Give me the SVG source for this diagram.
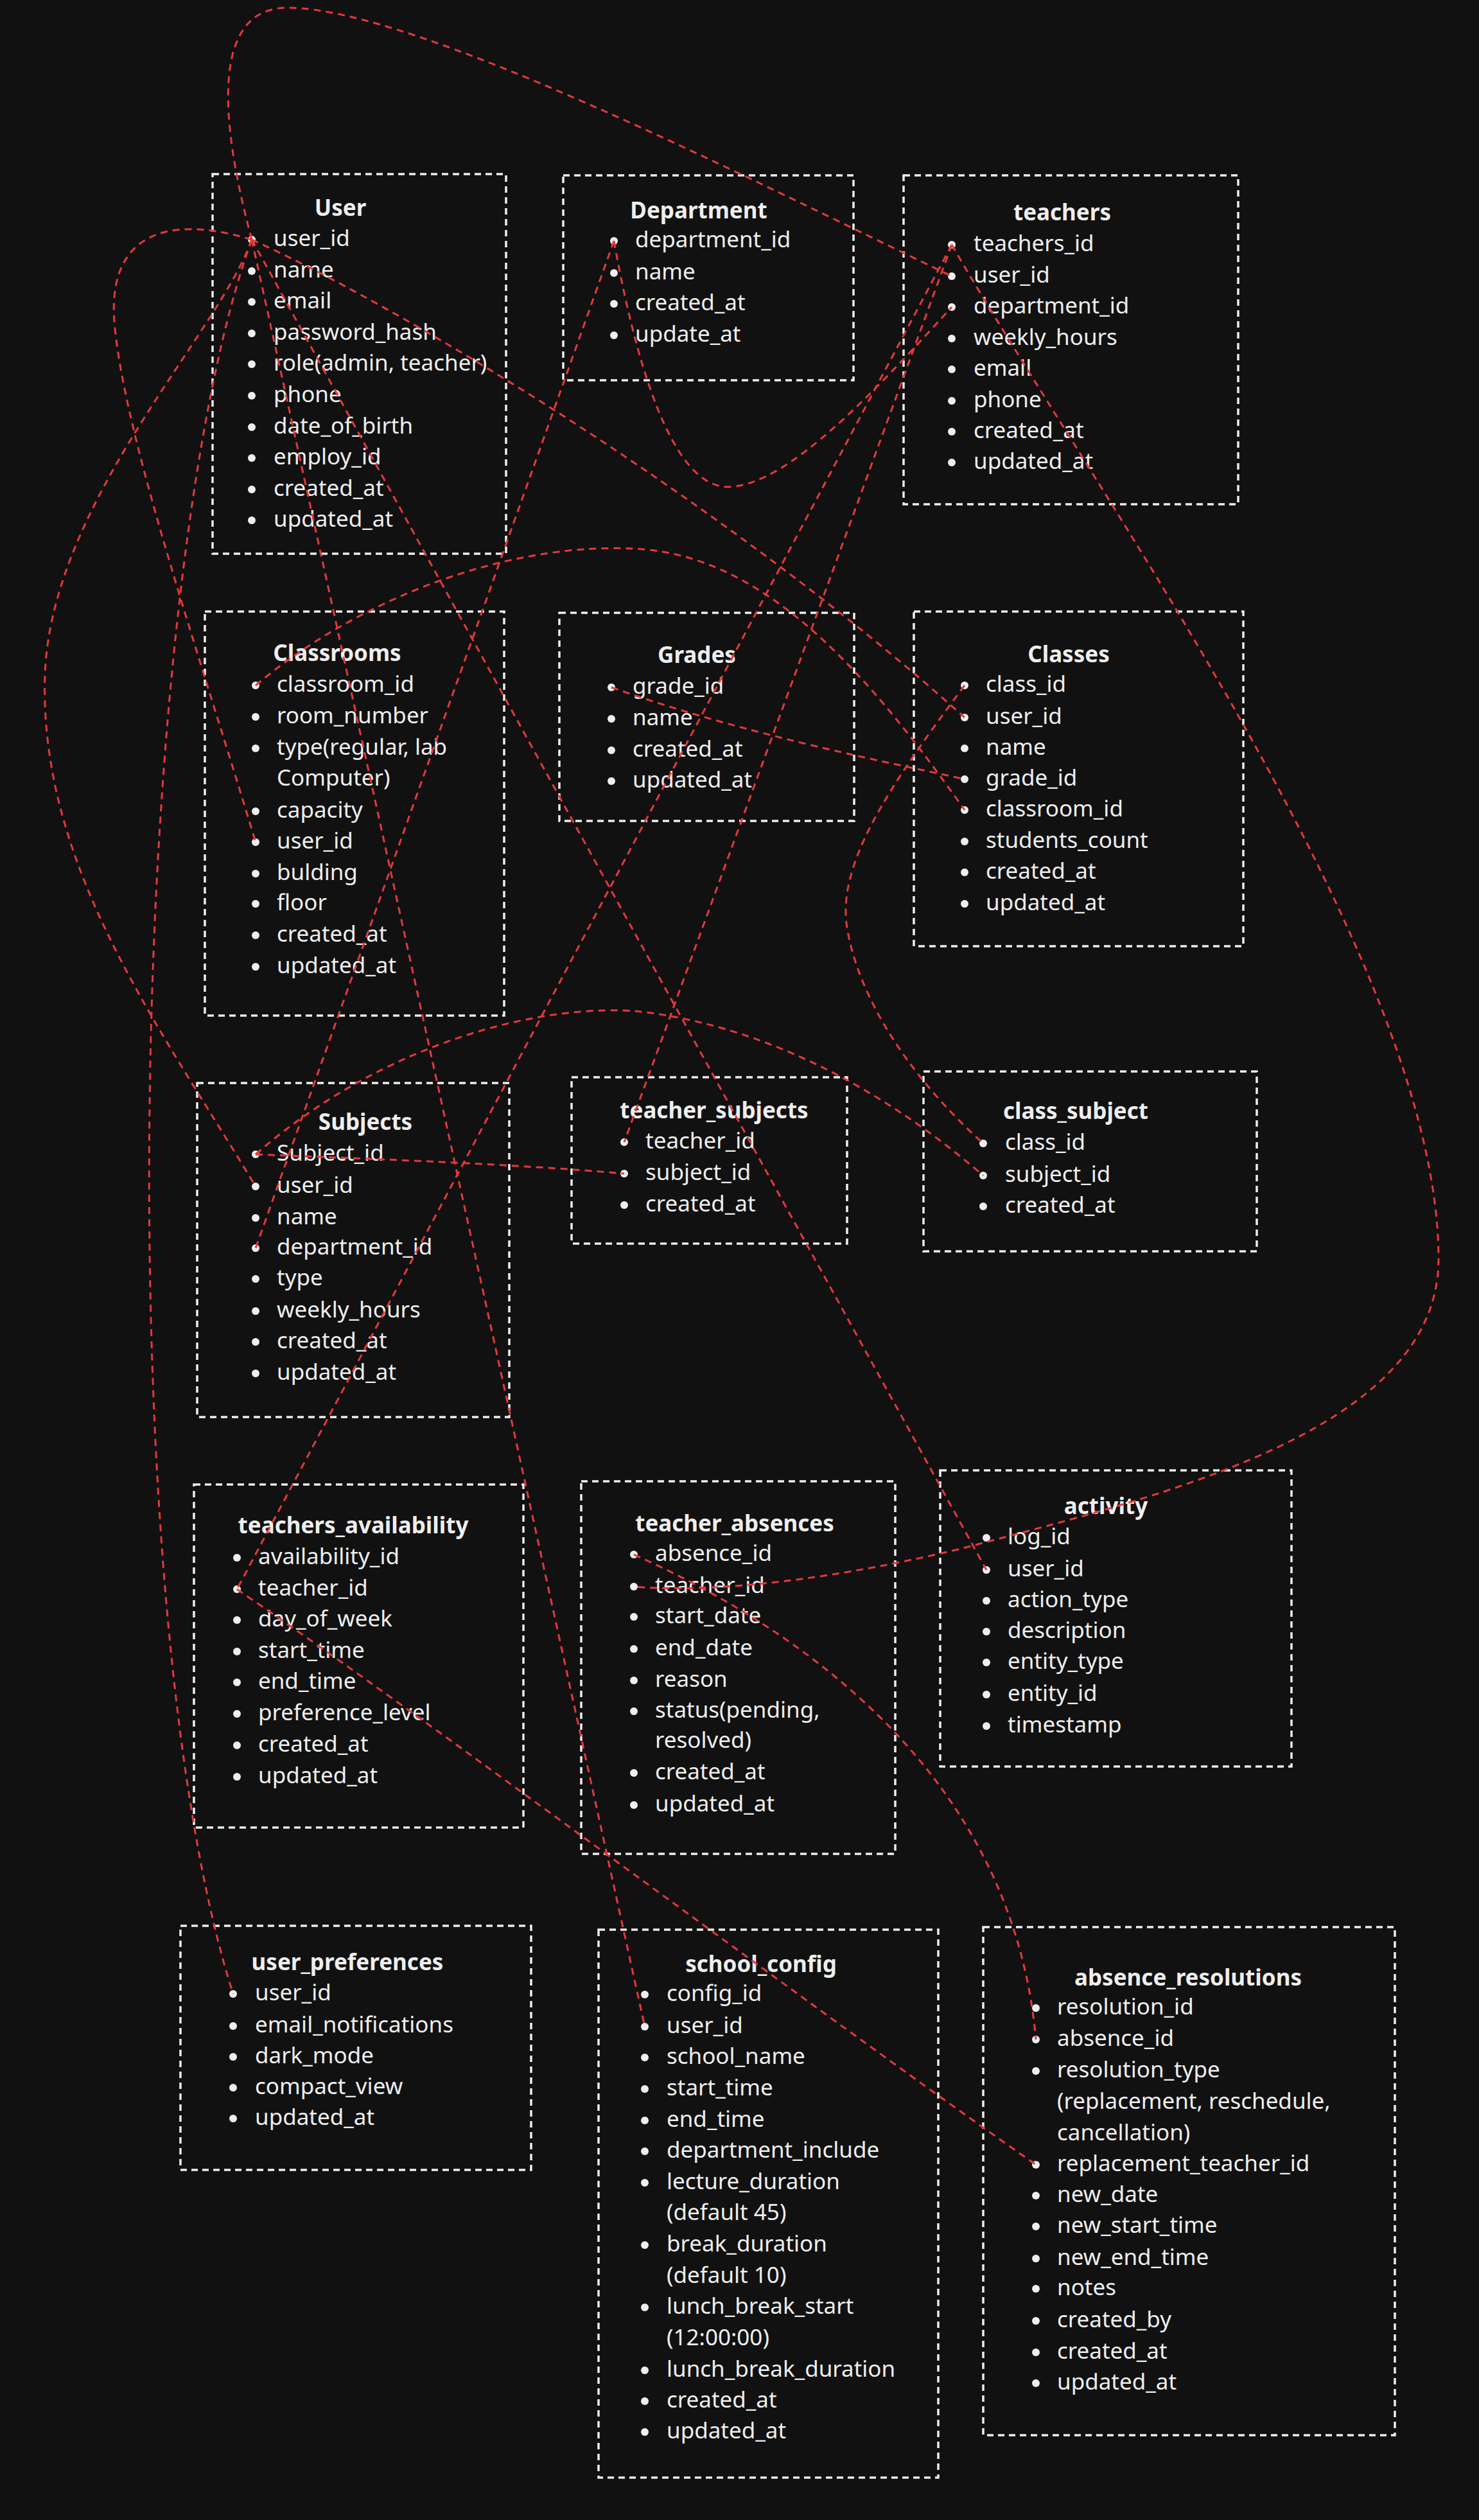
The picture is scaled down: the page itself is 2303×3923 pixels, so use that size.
<svg xmlns="http://www.w3.org/2000/svg" width="2303" height="3923" viewBox="0 0 2303 3923">
<style>
.bg{fill:#111111}
.box{fill:none;stroke:#eeeeee;stroke-width:3.5;stroke-dasharray:10 7}
.t{font-family:"Noto Sans","Liberation Sans",sans-serif;font-size:35px;fill:#eeeeee}
.h{font-weight:bold;text-anchor:middle}
.dot{fill:#eeeeee}
.c{fill:none;stroke:#e5383b;stroke-width:3;stroke-dasharray:11 8}
</style>
<rect class="bg" x="0" y="0" width="2303" height="3923"/>

<g id="node-user">
<rect class="box" x="331" y="271" width="457" height="591"/>
<text class="t h" x="530" y="336">User</text>
<g class="dot"><circle cx="392" cy="373" r="6"/><circle cx="392" cy="422" r="6"/><circle cx="392" cy="470" r="6"/><circle cx="392" cy="519" r="6"/><circle cx="392" cy="567" r="6"/><circle cx="392" cy="616" r="6"/><circle cx="392" cy="665" r="6"/><circle cx="392" cy="713" r="6"/><circle cx="392" cy="762" r="6"/><circle cx="392" cy="810" r="6"/></g>
<text class="t" x="426" y="383">user_id</text>
<text class="t" x="426" y="432">name</text>
<text class="t" x="426" y="480">email</text>
<text class="t" x="426" y="529">password_hash</text>
<text class="t" x="426" y="577">role(admin, teacher)</text>
<text class="t" x="426" y="626">phone</text>
<text class="t" x="426" y="675">date_of_birth</text>
<text class="t" x="426" y="723">employ_id</text>
<text class="t" x="426" y="772">created_at</text>
<text class="t" x="426" y="820">updated_at</text>
</g>

<g id="node-department">
<rect class="box" x="877" y="273" width="452" height="319"/>
<text class="t h" x="1088" y="340">Department</text>
<g class="dot"><circle cx="956" cy="375" r="6"/><circle cx="956" cy="425" r="6"/><circle cx="956" cy="473" r="6"/><circle cx="956" cy="522" r="6"/></g>
<text class="t" x="989" y="385">department_id</text>
<text class="t" x="989" y="435">name</text>
<text class="t" x="989" y="483">created_at</text>
<text class="t" x="989" y="532">update_at</text>
</g>

<g id="node-teachers">
<rect class="box" x="1407" y="273" width="521" height="512"/>
<text class="t h" x="1654" y="343">teachers</text>
<g class="dot"><circle cx="1482" cy="381" r="6"/><circle cx="1482" cy="430" r="6"/><circle cx="1482" cy="478" r="6"/><circle cx="1482" cy="527" r="6"/><circle cx="1482" cy="575" r="6"/><circle cx="1482" cy="624" r="6"/><circle cx="1482" cy="672" r="6"/><circle cx="1482" cy="720" r="6"/></g>
<text class="t" x="1516" y="391">teachers_id</text>
<text class="t" x="1516" y="440">user_id</text>
<text class="t" x="1516" y="488">department_id</text>
<text class="t" x="1516" y="537">weekly_hours</text>
<text class="t" x="1516" y="585">email</text>
<text class="t" x="1516" y="634">phone</text>
<text class="t" x="1516" y="682">created_at</text>
<text class="t" x="1516" y="730">updated_at</text>
</g>

<g id="node-classrooms">
<rect class="box" x="319" y="952" width="466" height="629"/>
<text class="t h" x="525" y="1029">Classrooms</text>
<g class="dot"><circle cx="398" cy="1067" r="6"/><circle cx="398" cy="1116" r="6"/><circle cx="398" cy="1165" r="6"/><circle cx="398" cy="1263" r="6"/><circle cx="398" cy="1311" r="6"/><circle cx="398" cy="1360" r="6"/><circle cx="398" cy="1407" r="6"/><circle cx="398" cy="1456" r="6"/><circle cx="398" cy="1505" r="6"/></g>
<text class="t" x="431" y="1077">classroom_id</text>
<text class="t" x="431" y="1126">room_number</text>
<text class="t" x="431" y="1175">type(regular, lab</text>
<text class="t" x="431" y="1223">Computer)</text>
<text class="t" x="431" y="1273">capacity</text>
<text class="t" x="431" y="1321">user_id</text>
<text class="t" x="431" y="1370">bulding</text>
<text class="t" x="431" y="1417">floor</text>
<text class="t" x="431" y="1466">created_at</text>
<text class="t" x="431" y="1515">updated_at</text>
</g>

<g id="node-grades">
<rect class="box" x="871" y="954" width="459" height="324"/>
<text class="t h" x="1085" y="1032">Grades</text>
<g class="dot"><circle cx="952" cy="1070" r="6"/><circle cx="952" cy="1119" r="6"/><circle cx="952" cy="1168" r="6"/><circle cx="952" cy="1216" r="6"/></g>
<text class="t" x="985" y="1080">grade_id</text>
<text class="t" x="985" y="1129">name</text>
<text class="t" x="985" y="1178">created_at</text>
<text class="t" x="985" y="1226">updated_at</text>
</g>

<g id="node-classes">
<rect class="box" x="1423" y="952" width="513" height="521"/>
<text class="t h" x="1664" y="1031">Classes</text>
<g class="dot"><circle cx="1502" cy="1067" r="6"/><circle cx="1502" cy="1117" r="6"/><circle cx="1502" cy="1165" r="6"/><circle cx="1502" cy="1213" r="6"/><circle cx="1502" cy="1261" r="6"/><circle cx="1502" cy="1310" r="6"/><circle cx="1502" cy="1358" r="6"/><circle cx="1502" cy="1407" r="6"/></g>
<text class="t" x="1535" y="1077">class_id</text>
<text class="t" x="1535" y="1127">user_id</text>
<text class="t" x="1535" y="1175">name</text>
<text class="t" x="1535" y="1223">grade_id</text>
<text class="t" x="1535" y="1271">classroom_id</text>
<text class="t" x="1535" y="1320">students_count</text>
<text class="t" x="1535" y="1368">created_at</text>
<text class="t" x="1535" y="1417">updated_at</text>
</g>

<g id="node-subjects">
<rect class="box" x="307" y="1686" width="486" height="520"/>
<text class="t h" x="569" y="1759">Subjects</text>
<g class="dot"><circle cx="398" cy="1797" r="6"/><circle cx="398" cy="1847" r="6"/><circle cx="398" cy="1896" r="6"/><circle cx="398" cy="1943" r="6"/><circle cx="398" cy="1991" r="6"/><circle cx="398" cy="2041" r="6"/><circle cx="398" cy="2089" r="6"/><circle cx="398" cy="2138" r="6"/></g>
<text class="t" x="431" y="1807">Subject_id</text>
<text class="t" x="431" y="1857">user_id</text>
<text class="t" x="431" y="1906">name</text>
<text class="t" x="431" y="1953">department_id</text>
<text class="t" x="431" y="2001">type</text>
<text class="t" x="431" y="2051">weekly_hours</text>
<text class="t" x="431" y="2099">created_at</text>
<text class="t" x="431" y="2148">updated_at</text>
</g>

<g id="node-teacher-subjects">
<rect class="box" x="890" y="1677" width="429" height="259"/>
<text class="t h" x="1112" y="1741">teacher_subjects</text>
<g class="dot"><circle cx="972" cy="1778" r="6"/><circle cx="972" cy="1827" r="6"/><circle cx="972" cy="1876" r="6"/></g>
<text class="t" x="1005" y="1788">teacher_id</text>
<text class="t" x="1005" y="1837">subject_id</text>
<text class="t" x="1005" y="1886">created_at</text>
</g>

<g id="node-class-subject">
<rect class="box" x="1438" y="1668" width="519" height="280"/>
<text class="t h" x="1675" y="1742">class_subject</text>
<g class="dot"><circle cx="1531" cy="1780" r="6"/><circle cx="1531" cy="1830" r="6"/><circle cx="1531" cy="1878" r="6"/></g>
<text class="t" x="1565" y="1790">class_id</text>
<text class="t" x="1565" y="1840">subject_id</text>
<text class="t" x="1565" y="1888">created_at</text>
</g>

<g id="node-teachers-availability">
<rect class="box" x="302" y="2311" width="513" height="534"/>
<text class="t h" x="550" y="2387">teachers_availability</text>
<g class="dot"><circle cx="369" cy="2425" r="6"/><circle cx="369" cy="2474" r="6"/><circle cx="369" cy="2522" r="6"/><circle cx="369" cy="2571" r="6"/><circle cx="369" cy="2619" r="6"/><circle cx="369" cy="2668" r="6"/><circle cx="369" cy="2717" r="6"/><circle cx="369" cy="2766" r="6"/></g>
<text class="t" x="402" y="2435">availability_id</text>
<text class="t" x="402" y="2484">teacher_id</text>
<text class="t" x="402" y="2532">day_of_week</text>
<text class="t" x="402" y="2581">start_time</text>
<text class="t" x="402" y="2629">end_time</text>
<text class="t" x="402" y="2678">preference_level</text>
<text class="t" x="402" y="2727">created_at</text>
<text class="t" x="402" y="2776">updated_at</text>
</g>

<g id="node-teacher-absences">
<rect class="box" x="905" y="2306" width="489" height="580"/>
<text class="t h" x="1144" y="2384">teacher_absences</text>
<g class="dot"><circle cx="987" cy="2420" r="6"/><circle cx="987" cy="2470" r="6"/><circle cx="987" cy="2517" r="6"/><circle cx="987" cy="2567" r="6"/><circle cx="987" cy="2616" r="6"/><circle cx="987" cy="2664" r="6"/><circle cx="987" cy="2760" r="6"/><circle cx="987" cy="2810" r="6"/></g>
<text class="t" x="1020" y="2430">absence_id</text>
<text class="t" x="1020" y="2480">teacher_id</text>
<text class="t" x="1020" y="2527">start_date</text>
<text class="t" x="1020" y="2577">end_date</text>
<text class="t" x="1020" y="2626">reason</text>
<text class="t" x="1020" y="2674">status(pending,</text>
<text class="t" x="1020" y="2721">resolved)</text>
<text class="t" x="1020" y="2770">created_at</text>
<text class="t" x="1020" y="2820">updated_at</text>
</g>

<g id="node-activity">
<rect class="box" x="1464" y="2289" width="547" height="461"/>
<text class="t h" x="1722" y="2357">activity</text>
<g class="dot"><circle cx="1536" cy="2394" r="6"/><circle cx="1536" cy="2444" r="6"/><circle cx="1536" cy="2492" r="6"/><circle cx="1536" cy="2540" r="6"/><circle cx="1536" cy="2588" r="6"/><circle cx="1536" cy="2638" r="6"/><circle cx="1536" cy="2687" r="6"/></g>
<text class="t" x="1569" y="2404">log_id</text>
<text class="t" x="1569" y="2454">user_id</text>
<text class="t" x="1569" y="2502">action_type</text>
<text class="t" x="1569" y="2550">description</text>
<text class="t" x="1569" y="2598">entity_type</text>
<text class="t" x="1569" y="2648">entity_id</text>
<text class="t" x="1569" y="2697">timestamp</text>
</g>

<g id="node-user-preferences">
<rect class="box" x="281" y="2998" width="546" height="380"/>
<text class="t h" x="541" y="3067">user_preferences</text>
<g class="dot"><circle cx="363" cy="3104" r="6"/><circle cx="363" cy="3154" r="6"/><circle cx="363" cy="3202" r="6"/><circle cx="363" cy="3250" r="6"/><circle cx="363" cy="3298" r="6"/></g>
<text class="t" x="397" y="3114">user_id</text>
<text class="t" x="397" y="3164">email_notifications</text>
<text class="t" x="397" y="3212">dark_mode</text>
<text class="t" x="397" y="3260">compact_view</text>
<text class="t" x="397" y="3308">updated_at</text>
</g>

<g id="node-school-config">
<rect class="box" x="932" y="3004" width="529" height="853"/>
<text class="t h" x="1185" y="3070">school_config</text>
<g class="dot"><circle cx="1004" cy="3105" r="6"/><circle cx="1004" cy="3155" r="6"/><circle cx="1004" cy="3203" r="6"/><circle cx="1004" cy="3252" r="6"/><circle cx="1004" cy="3301" r="6"/><circle cx="1004" cy="3349" r="6"/><circle cx="1004" cy="3398" r="6"/><circle cx="1004" cy="3495" r="6"/><circle cx="1004" cy="3592" r="6"/><circle cx="1004" cy="3690" r="6"/><circle cx="1004" cy="3738" r="6"/><circle cx="1004" cy="3786" r="6"/></g>
<text class="t" x="1038" y="3115">config_id</text>
<text class="t" x="1038" y="3165">user_id</text>
<text class="t" x="1038" y="3213">school_name</text>
<text class="t" x="1038" y="3262">start_time</text>
<text class="t" x="1038" y="3311">end_time</text>
<text class="t" x="1038" y="3359">department_include</text>
<text class="t" x="1038" y="3408">lecture_duration</text>
<text class="t" x="1038" y="3456">(default 45)</text>
<text class="t" x="1038" y="3505">break_duration</text>
<text class="t" x="1038" y="3554">(default 10)</text>
<text class="t" x="1038" y="3602">lunch_break_start</text>
<text class="t" x="1038" y="3651">(12:00:00)</text>
<text class="t" x="1038" y="3700">lunch_break_duration</text>
<text class="t" x="1038" y="3748">created_at</text>
<text class="t" x="1038" y="3796">updated_at</text>
</g>

<g id="node-absence-resolutions">
<rect class="box" x="1531" y="3000" width="641" height="791"/>
<text class="t h" x="1850" y="3091">absence_resolutions</text>
<g class="dot"><circle cx="1613" cy="3126" r="6"/><circle cx="1613" cy="3175" r="6"/><circle cx="1613" cy="3224" r="6"/><circle cx="1613" cy="3370" r="6"/><circle cx="1613" cy="3418" r="6"/><circle cx="1613" cy="3466" r="6"/><circle cx="1613" cy="3516" r="6"/><circle cx="1613" cy="3563" r="6"/><circle cx="1613" cy="3613" r="6"/><circle cx="1613" cy="3662" r="6"/><circle cx="1613" cy="3710" r="6"/></g>
<text class="t" x="1646" y="3136">resolution_id</text>
<text class="t" x="1646" y="3185">absence_id</text>
<text class="t" x="1646" y="3234">resolution_type</text>
<text class="t" x="1646" y="3283">(replacement, reschedule,</text>
<text class="t" x="1646" y="3332">cancellation)</text>
<text class="t" x="1646" y="3380">replacement_teacher_id</text>
<text class="t" x="1646" y="3428">new_date</text>
<text class="t" x="1646" y="3476">new_start_time</text>
<text class="t" x="1646" y="3526">new_end_time</text>
<text class="t" x="1646" y="3573">notes</text>
<text class="t" x="1646" y="3623">created_by</text>
<text class="t" x="1646" y="3672">created_at</text>
<text class="t" x="1646" y="3720">updated_at</text>
</g>

<g id="connectors">
<path class="c" d="M392,373 C340,180 330,10 450,12 C650,15 1150,270 1482,430"/>
<path class="c" d="M956,375 C1000,620 1060,760 1135,758 C1230,755 1370,600 1482,478"/>
<path class="c" d="M392,373 C250,330 160,370 180,520 C200,700 320,1050 398,1311"/>
<path class="c" d="M392,373 C650,490 1150,800 1502,1117"/>
<path class="c" d="M952,1070 C1150,1140 1350,1180 1502,1213"/>
<path class="c" d="M398,1067 C560,930 800,840 1000,855 C1200,870 1360,1060 1502,1261"/>
<path class="c" d="M392,373 C340,520 80,780 70,1050 C60,1350 250,1600 398,1847"/>
<path class="c" d="M956,375 L398,1943"/>
<path class="c" d="M1482,381 L972,1778"/>
<path class="c" d="M1482,381 L369,2474"/>
<path class="c" d="M1482,381 C1700,760 2240,1500 2240,1960 C2240,2230 1800,2330 1500,2410 C1250,2470 1080,2478 987,2470"/>
<path class="c" d="M987,2420 C1300,2560 1580,2800 1613,3175"/>
<path class="c" d="M369,2474 C700,2700 1200,3080 1613,3370"/>
<path class="c" d="M398,1797 C600,1805 800,1812 972,1827"/>
<path class="c" d="M398,1797 C600,1620 850,1560 1000,1575 C1200,1600 1380,1700 1531,1830"/>
<path class="c" d="M1502,1067 C1380,1230 1300,1350 1320,1450 C1340,1560 1420,1680 1531,1780"/>
<path class="c" d="M392,373 L1536,2444"/>
<path class="c" d="M392,373 L1004,3155"/>
<path class="c" d="M392,373 C200,900 170,2500 363,3104"/>
</g>
</svg>
